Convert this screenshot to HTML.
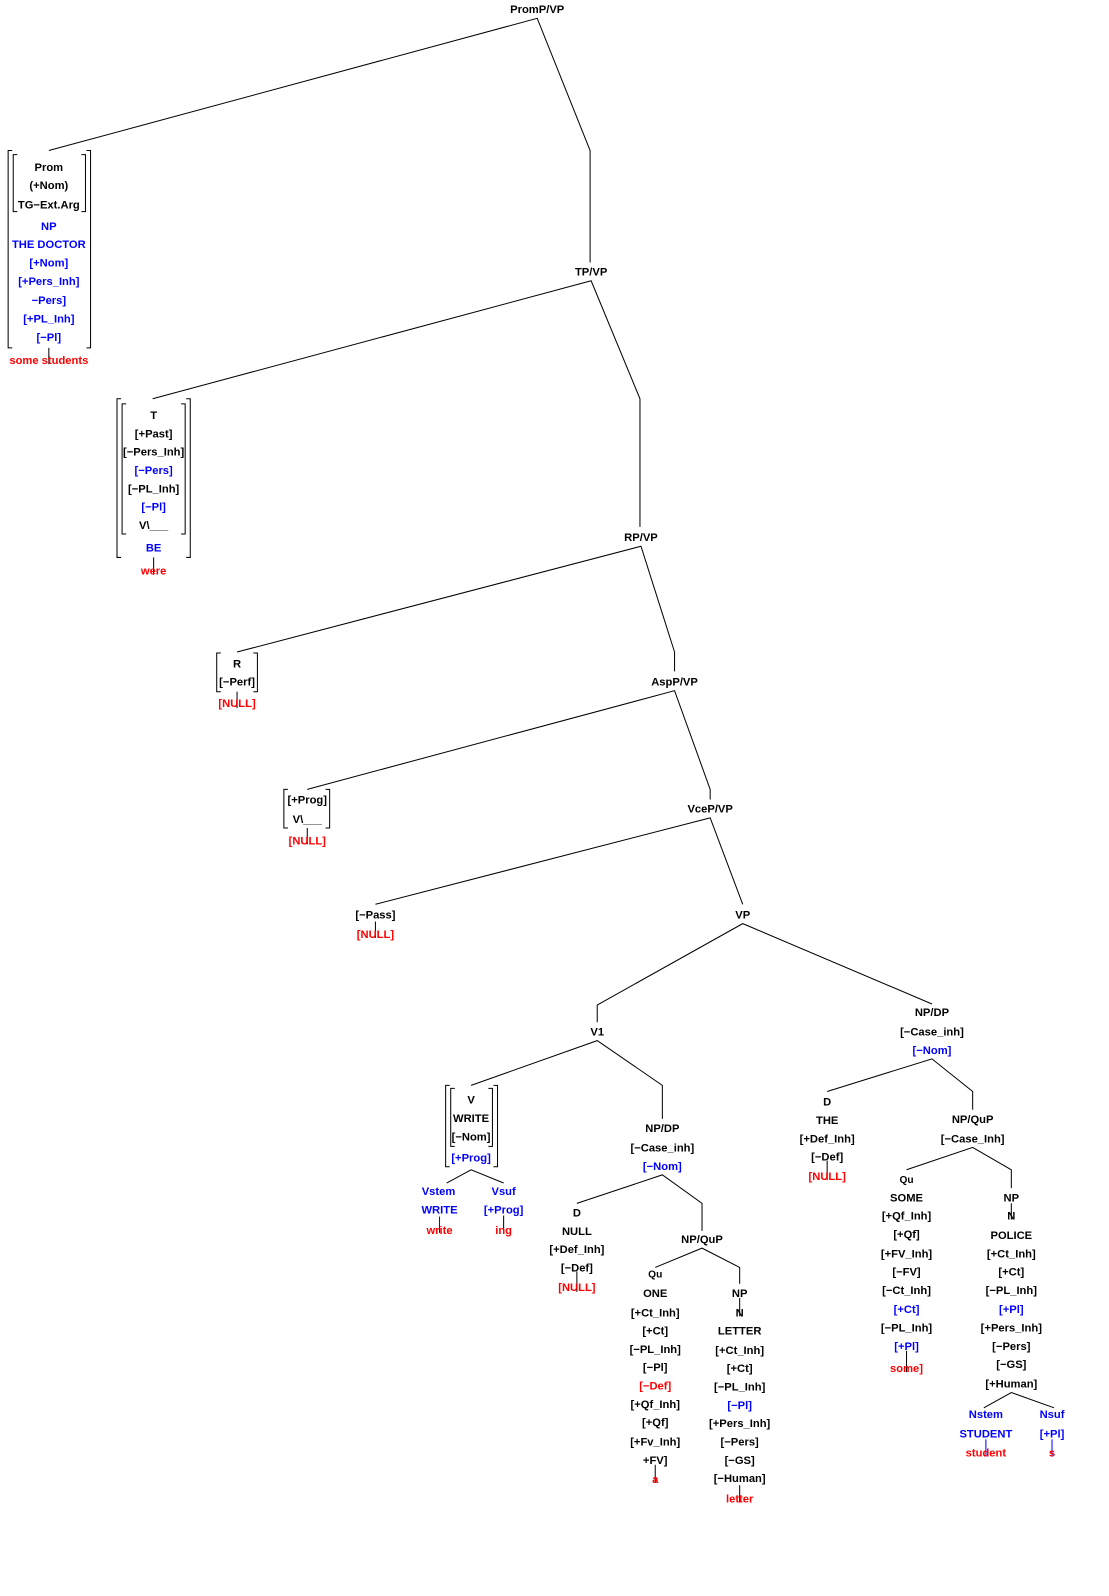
<!DOCTYPE html>
<html><head><meta charset="utf-8"><style>
html,body{margin:0;padding:0;background:#fff}
svg{display:block}
text{font-family:"Liberation Sans",Arial,sans-serif;font-size:11px;font-weight:bold;text-anchor:middle;fill:#000}
.b{fill:#0000ff}.r{fill:#ff0000}.s{font-size:10px}
line,polyline,path{stroke:#000;stroke-width:1;fill:none}
</style></head><body>
<svg width="1109" height="1596" viewBox="0 0 1090 1569" preserveAspectRatio="none" xmlns="http://www.w3.org/2000/svg">
<g>
<polyline points="48,148 528,18 580,148 580,258"/>
<polyline points="150,392 581,276 629,392 629,518"/>
<polyline points="233,641 630,537 663,641 663,660"/>
<polyline points="302,776 663,679 698,776 698,786"/>
<polyline points="369,889 698,804 730,889"/>
<polyline points="587,1005 587,988 730,908 916,987"/>
<polyline points="463,1067 587,1023 651,1067 651,1100"/>
<polyline points="567,1183 651,1155 690,1183 690,1210"/>
<polyline points="644,1246 690,1227 727,1246 727,1262"/>
<polyline points="813,1073 916,1041 956,1073 956,1091"/>
<polyline points="891,1150 956,1128 994,1150 994,1168"/>
<polyline points="967,1384 994,1369 1036,1384"/>
<polyline points="439,1163 463,1150 495,1163"/>
<line x1="48" y1="342" x2="48" y2="358"/>
<line x1="151" y1="548" x2="151" y2="565"/>
<line x1="233" y1="680" x2="233" y2="696"/>
<line x1="302" y1="814" x2="302" y2="830"/>
<line x1="369" y1="906" x2="369" y2="922"/>
<line x1="567" y1="1250" x2="567" y2="1270"/>
<line x1="644" y1="1440" x2="644" y2="1458"/>
<line x1="727" y1="1460" x2="727" y2="1477"/>
<line x1="813" y1="1141" x2="813" y2="1160"/>
<line x1="891" y1="1328" x2="891" y2="1349"/>
<line x1="994" y1="1183" x2="994" y2="1199"/>
<line x1="727" y1="1276" x2="727" y2="1294"/>
<line x1="432" y1="1196" x2="432" y2="1212" style="stroke:#00f"/>
<line x1="495" y1="1195" x2="495" y2="1212"/>
<line x1="969" y1="1415" x2="969" y2="1432" style="stroke:#00f"/>
<line x1="1034" y1="1415" x2="1034" y2="1432" style="stroke:#00f"/>
<path d="M12,148 H8 V342 H12 M85,148 H89 V342 H85"/>
<path d="M17,152 H13 V208 H17 M80,152 H84 V208 H80"/>
<path d="M119,392 H115 V548 H119 M183,392 H187 V548 H183"/>
<path d="M124,397 H120 V525 H124 M178,397 H182 V525 H178"/>
<path d="M217,642 H213 V680 H217 M249,642 H253 V680 H249"/>
<path d="M283,776 H279 V814 H283 M320,776 H324 V814 H320"/>
<path d="M442,1067 H438 V1147 H442 M485,1067 H489 V1147 H485"/>
<path d="M447,1070 H443 V1127 H447 M480,1070 H484 V1127 H480"/>
</g>
<text x="528" y="13">PromP/VP</text>
<text x="48" y="168">Prom</text><text x="48" y="186">(+Nom)</text><text x="48" y="205">TG−Ext.Arg</text>
<text x="48" y="226" class="b">NP</text><text x="48" y="244" class="b">THE DOCTOR</text><text x="48" y="262" class="b">[+Nom]</text><text x="48" y="280" class="b">[+Pers_Inh]</text><text x="48" y="299" class="b">−Pers]</text><text x="48" y="317" class="b">[+PL_Inh]</text><text x="48" y="335" class="b">[−Pl]</text>
<text x="48" y="358" class="r">some students</text>
<text x="581" y="271">TP/VP</text>
<text x="151" y="412">T</text><text x="151" y="430">[+Past]</text><text x="151" y="448">[−Pers_Inh]</text><text x="151" y="466" class="b">[−Pers]</text><text x="151" y="484">[−PL_Inh]</text><text x="151" y="502" class="b">[−Pl]</text><text x="151" y="520">V\___</text><text x="151" y="542" class="b">BE</text><text x="151" y="565" class="r">were</text>
<text x="630" y="532">RP/VP</text>
<text x="233" y="656">R</text><text x="233" y="674">[−Perf]</text><text x="233" y="695" class="r">[NULL]</text>
<text x="663" y="674">AspP/VP</text>
<text x="302" y="790">[+Prog]</text><text x="302" y="809">V\___</text><text x="302" y="830" class="r">[NULL]</text>
<text x="698" y="799">VceP/VP</text>
<text x="369" y="903">[−Pass]</text><text x="369" y="922" class="r">[NULL]</text>
<text x="730" y="903">VP</text>
<text x="587" y="1018">V1</text>
<text x="916" y="999">NP/DP</text><text x="916" y="1018">[−Case_inh]</text><text x="916" y="1036" class="b">[−Nom]</text>
<text x="463" y="1085">V</text><text x="463" y="1103">WRITE</text><text x="463" y="1121">[−Nom]</text><text x="463" y="1142" class="b">[+Prog]</text>
<text x="431" y="1175" class="b">Vstem</text><text x="432" y="1193" class="b">WRITE</text><text x="432" y="1213" class="r">write</text>
<text x="495" y="1175" class="b">Vsuf</text><text x="495" y="1193" class="b">[+Prog]</text><text x="495" y="1213" class="r">ing</text>
<text x="651" y="1113">NP/DP</text><text x="651" y="1132">[−Case_inh]</text><text x="651" y="1150" class="b">[−Nom]</text>
<text x="567" y="1196">D</text><text x="567" y="1214">NULL</text><text x="567" y="1232">[+Def_Inh]</text><text x="567" y="1250">[−Def]</text><text x="567" y="1269" class="r">[NULL]</text>
<text x="690" y="1222">NP/QuP</text>
<text x="644" y="1256" class="s">Qu</text><text x="644" y="1275">ONE</text><text x="644" y="1294">[+Ct_Inh]</text><text x="644" y="1312">[+Ct]</text><text x="644" y="1330">[−PL_Inh]</text><text x="644" y="1348">[−Pl]</text><text x="644" y="1366" class="r">[−Def]</text><text x="644" y="1384">[+Qf_Inh]</text><text x="644" y="1402">[+Qf]</text><text x="644" y="1421">[+Fv_Inh]</text><text x="644" y="1439">+FV]</text><text x="644" y="1458" class="r">a</text>
<text x="727" y="1275">NP</text><text x="727" y="1294">N</text><text x="727" y="1312">LETTER</text><text x="727" y="1331">[+Ct_Inh]</text><text x="727" y="1349">[+Ct]</text><text x="727" y="1367">[−PL_Inh]</text><text x="727" y="1385" class="b">[−Pl]</text><text x="727" y="1403">[+Pers_Inh]</text><text x="727" y="1421">[−Pers]</text><text x="727" y="1439">[−GS]</text><text x="727" y="1457">[−Human]</text><text x="727" y="1477" class="r">letter</text>
<text x="813" y="1087">D</text><text x="813" y="1105">THE</text><text x="813" y="1123">[+Def_Inh]</text><text x="813" y="1141">[−Def]</text><text x="813" y="1160" class="r">[NULL]</text>
<text x="956" y="1104">NP/QuP</text><text x="956" y="1123">[−Case_Inh]</text>
<text x="891" y="1163" class="s">Qu</text><text x="891" y="1181">SOME</text><text x="891" y="1199">[+Qf_Inh]</text><text x="891" y="1217">[+Qf]</text><text x="891" y="1236">[+FV_Inh]</text><text x="891" y="1254">[−FV]</text><text x="891" y="1272">[−Ct_Inh]</text><text x="891" y="1291" class="b">[+Ct]</text><text x="891" y="1309">[−PL_Inh]</text><text x="891" y="1327" class="b">[+Pl]</text><text x="891" y="1349" class="r">some]</text>
<text x="994" y="1181">NP</text><text x="994" y="1199">N</text><text x="994" y="1218">POLICE</text><text x="994" y="1236">[+Ct_Inh]</text><text x="994" y="1254">[+Ct]</text><text x="994" y="1272">[−PL_Inh]</text><text x="994" y="1291" class="b">[+Pl]</text><text x="994" y="1309">[+Pers_Inh]</text><text x="994" y="1327">[−Pers]</text><text x="994" y="1345">[−GS]</text><text x="994" y="1364">[+Human]</text>
<text x="969" y="1394" class="b">Nstem</text><text x="969" y="1413" class="b">STUDENT</text><text x="969" y="1432" class="r">student</text>
<text x="1034" y="1394" class="b">Nsuf</text><text x="1034" y="1413" class="b">[+Pl]</text><text x="1034" y="1432" class="r">s</text>
</svg>
</body></html>
